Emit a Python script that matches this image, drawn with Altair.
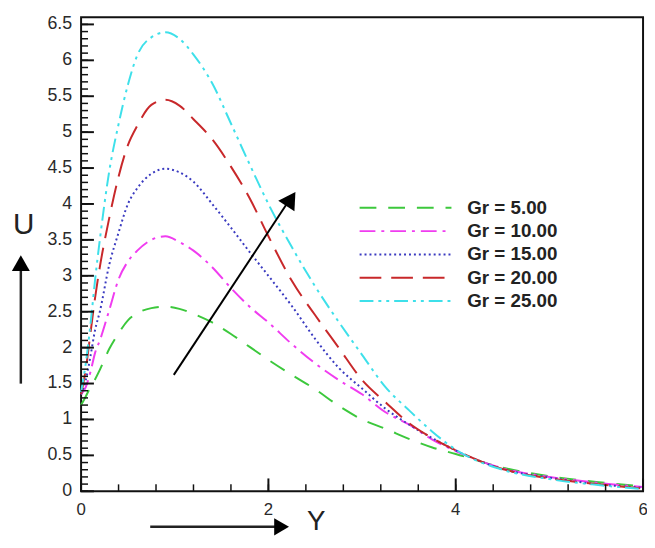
import altair as alt
import pandas as pd

# ---------------- data ----------------
xs = [0, 0.05, 0.1, 0.15, 0.2, 0.3, 0.4, 0.5, 0.6, 0.75, 0.9, 1.05, 1.2, 1.4, 1.6, 1.8,
      2.0, 2.25, 2.5, 2.75, 3.0, 3.25, 3.5, 3.75, 4.0, 4.5, 5.0, 5.5, 6.0]

gr5 = [1.20, 1.32, 1.45, 1.56, 1.69, 1.98, 2.20, 2.38, 2.48, 2.55, 2.57, 2.54, 2.47, 2.35, 2.19, 2.01,
       1.83, 1.62, 1.42, 1.19, 1.00, 0.87, 0.73, 0.61, 0.52, 0.33, 0.21, 0.13, 0.07]
gr10 = [1.35, 1.45, 1.66, 1.93, 2.10, 2.52, 2.95, 3.20, 3.35, 3.50, 3.55, 3.47, 3.35, 3.12, 2.83, 2.57,
        2.35, 2.05, 1.78, 1.55, 1.35, 1.10, 0.93, 0.72, 0.56, 0.32, 0.20, 0.12, 0.06]
gr15 = [1.35, 1.55, 1.88, 2.25, 2.50, 3.15, 3.60, 4.00, 4.22, 4.42, 4.49, 4.44, 4.31, 4.00, 3.67, 3.33,
        3.00, 2.58, 2.12, 1.72, 1.43, 1.15, 0.93, 0.74, 0.57, 0.31, 0.19, 0.10, 0.05]
gr20 = [1.35, 1.70, 2.20, 2.70, 3.12, 3.80, 4.38, 4.82, 5.09, 5.38, 5.45, 5.37, 5.18, 4.90, 4.52, 4.08,
        3.55, 2.93, 2.45, 2.00, 1.55, 1.24, 0.95, 0.74, 0.57, 0.31, 0.18, 0.10, 0.04]
gr25 = [1.38, 1.78, 2.32, 2.95, 3.50, 4.45, 5.11, 5.66, 6.07, 6.32, 6.39, 6.30, 6.08, 5.68, 5.12, 4.55,
        4.00, 3.40, 2.85, 2.36, 1.90, 1.45, 1.13, 0.83, 0.58, 0.30, 0.17, 0.09, 0.03]

series_names = ["Gr = 5.00", "Gr = 10.00", "Gr = 15.00", "Gr = 20.00", "Gr = 25.00"]
series_values = [gr5, gr10, gr15, gr20, gr25]
series_colors = ["#3cc83c", "#f03cf0", "#3a3ac0", "#c8282a", "#3ee0ea"]
series_dashes = [[17, 12], [16, 6, 3, 6], [2, 3], [22, 10], [14, 5, 3, 5, 3, 5]]

y_major = [0, 0.5, 1, 1.5, 2, 2.5, 3, 3.5, 4, 4.5, 5, 5.5, 6, 6.5]
y_labels = ["0", "0.5", "1", "1.5", "2", "2.5", "3", "3.5", "4", "4.5", "5", "5.5", "6", "6.5"]
y_minor = [round(i * 0.1, 1) for i in range(0, 66)]
x_major = [0, 2, 4, 6]
x_labels = ["0", "2", "4", "6"]
x_minor = [round(i * 0.4, 1) for i in range(0, 16)]

# arrow annotation inside the plot (data coordinates)
arrow_x = [0.99, 2.19]
arrow_y = [1.62, 3.99]
arrow_head_x = [2.24]
arrow_head_y = [4.07]

# ---------------- tables ----------------
rows = []
for name, vals in zip(series_names, series_values):
    for x, y in zip(xs, vals):
        rows.append({"Y": x, "U": y, "series": name})
df = pd.DataFrame(rows)

xscale = alt.Scale(domain=[0, 6], nice=False, zero=False)
yscale = alt.Scale(domain=[0, 6.6], nice=False, zero=False)

font = "Liberation Sans"

legend_opts = dict(title=None, orient="none", legendX=281, legendY=184,
                   symbolType="stroke", symbolSize=8649, symbolStrokeWidth=2,
                   clipHeight=18, rowPadding=4.6, labelOffset=15,
                   labelFont=font, labelFontSize=19, labelFontWeight="bold",
                   labelColor="#222222", padding=0)

lines = alt.Chart(df).mark_line(strokeWidth=2, interpolate="monotone").encode(
    x=alt.X("Y:Q", scale=xscale, axis=None),
    y=alt.Y("U:Q", scale=yscale, axis=None),
    color=alt.Color("series:N", sort=series_names,
                    scale=alt.Scale(domain=series_names, range=series_colors),
                    legend=alt.Legend(**legend_opts)),
    strokeDash=alt.StrokeDash("series:N", sort=series_names,
                              scale=alt.Scale(domain=series_names, range=series_dashes),
                              legend=alt.Legend(**legend_opts)),
)

# inward tick marks
ymaj_df = pd.DataFrame({"v": y_major, "lab": y_labels})
ymin_df = pd.DataFrame({"v": y_minor})
xmaj_df = pd.DataFrame({"v": x_major, "lab": x_labels})
xmin_df = pd.DataFrame({"v": x_minor})

ytick_major = alt.Chart(ymaj_df).mark_rule(color="#111111", strokeWidth=2).encode(
    y=alt.Y("v:Q", scale=yscale, axis=None), x=alt.value(0), x2=alt.value(13))
ytick_minor = alt.Chart(ymin_df).mark_rule(color="#111111", strokeWidth=1.5).encode(
    y=alt.Y("v:Q", scale=yscale, axis=None), x=alt.value(0), x2=alt.value(7))
xtick_major = alt.Chart(xmaj_df).mark_rule(color="#111111", strokeWidth=2).encode(
    x=alt.X("v:Q", scale=xscale, axis=None), y=alt.value(480), y2=alt.value(467))
xtick_minor = alt.Chart(xmin_df).mark_rule(color="#111111", strokeWidth=1.5).encode(
    x=alt.X("v:Q", scale=xscale, axis=None), y=alt.value(480), y2=alt.value(473))

# tick labels
ylab = alt.Chart(ymaj_df).mark_text(align="right", baseline="middle", fontSize=18, font=font,
                                     color="#2a2a2a").encode(
    y=alt.Y("v:Q", scale=yscale, axis=None), x=alt.value(-9), text="lab:N")
xlab = alt.Chart(xmaj_df).mark_text(align="center", baseline="top", fontSize=17, font=font,
                                     color="#2a2a2a").encode(
    x=alt.X("v:Q", scale=xscale, axis=None), y=alt.value(491), text="lab:N")

# black arrow inside the plot
arrow_df = pd.DataFrame({"ax": arrow_x, "ay": arrow_y})
arrow_line = alt.Chart(arrow_df).mark_line(color="black", strokeWidth=2).encode(
    x=alt.X("ax:Q", scale=xscale, axis=None), y=alt.Y("ay:Q", scale=yscale, axis=None))
head_df = pd.DataFrame({"hx": arrow_head_x, "hy": arrow_head_y})
arrow_head = alt.Chart(head_df).mark_point(shape="triangle-up", filled=True, color="black",
                                            size=380, angle=33, opacity=1).encode(
    x=alt.X("hx:Q", scale=xscale, axis=None), y=alt.Y("hy:Q", scale=yscale, axis=None))

# axis titles with arrows (outside plot area)
title_df = pd.DataFrame({"t": ["U"]})
u_text = alt.Chart(title_df).mark_text(fontSize=30, font=font, color="#222222").encode(
    text="t:N", x=alt.value(-58), y=alt.value(210))
u_line = alt.Chart(title_df).mark_rule(color="#222222", strokeWidth=2.5).encode(
    x=alt.value(-61), y=alt.value(371), y2=alt.value(255))
u_head = alt.Chart(title_df).mark_point(shape="triangle-up", filled=True, color="black",
                                         size=330, opacity=1).encode(
    x=alt.value(-61), y=alt.value(249))

ytitle_df = pd.DataFrame({"t": ["Y"]})
y_text = alt.Chart(ytitle_df).mark_text(fontSize=28, font=font, color="#222222",
                                         baseline="alphabetic").encode(
    text="t:N", x=alt.value(238), y=alt.value(519))
y_line = alt.Chart(ytitle_df).mark_rule(color="#222222", strokeWidth=2.5).encode(
    y=alt.value(516), x=alt.value(70), x2=alt.value(197))
y_head = alt.Chart(ytitle_df).mark_point(shape="triangle-right", filled=True, color="black",
                                          size=300, opacity=1).encode(
    y=alt.value(516), x=alt.value(203))

chart = alt.layer(
    lines, ytick_minor, ytick_major, xtick_minor, xtick_major, ylab, xlab,
    arrow_line, arrow_head, u_text, u_line, u_head, y_text, y_line, y_head
).properties(
    width=569, height=480,
    autosize=alt.AutoSizeParams(type="none"),
    padding={"left": 74, "top": 6, "right": 4, "bottom": 46},
    background="white",
).configure_view(
    stroke="#111111", strokeWidth=2
)

chart.save("out.html", embed_options={"renderer": "svg", "actions": False})
